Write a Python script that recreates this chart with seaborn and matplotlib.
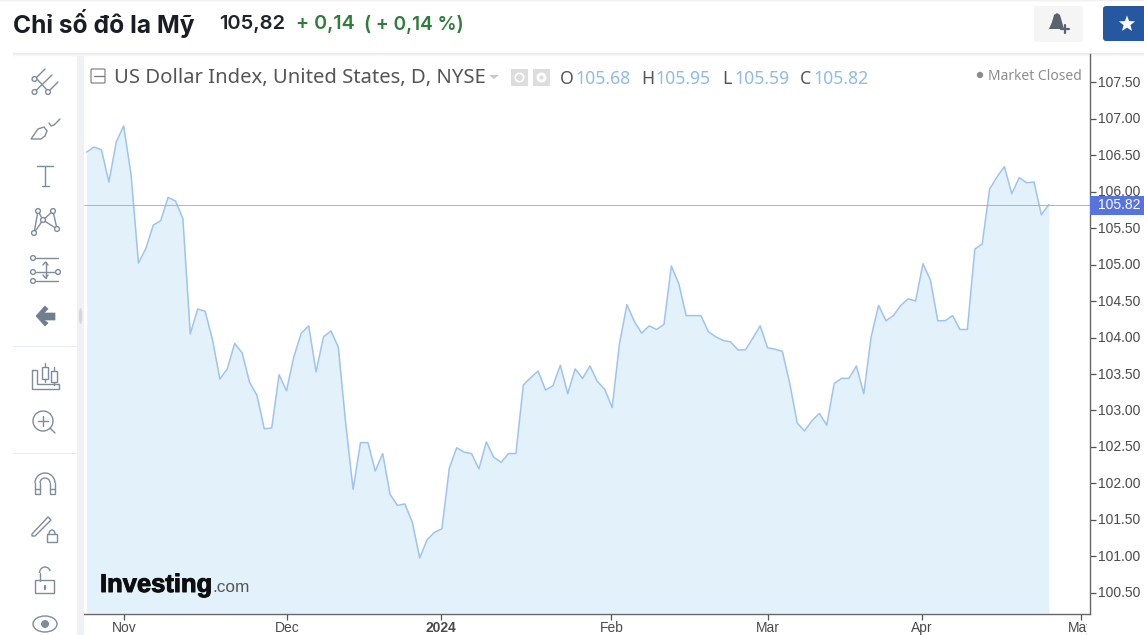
import numpy as np
import pandas as pd
import seaborn as sns
import matplotlib
matplotlib.use("Agg")
import matplotlib.pyplot as plt
import matplotlib.patheffects as pe
from matplotlib.transforms import ScaledTranslation
from matplotlib.patches import Rectangle, Circle, Polygon, Ellipse, Arc, FancyBboxPatch

closes = [106.54,106.61,106.57,106.13,106.68,106.90,106.23,105.02,105.22,105.54,
          105.60,105.92,105.87,105.63,104.05,104.39,104.36,103.97,103.43,103.57,
          103.92,103.79,103.39,103.21,102.75,102.76,103.49,103.27,103.74,104.06,
          104.16,103.53,104.01,104.09,103.87,102.82,101.92,102.56,102.56,102.17,
          102.41,101.85,101.70,101.72,101.47,100.98,101.23,101.33,101.38,102.21,
          102.49,102.43,102.41,102.20,102.57,102.36,102.29,102.41,102.41,103.35,
          103.45,103.54,103.28,103.34,103.62,103.23,103.57,103.44,103.61,103.40,
          103.29,103.04,103.92,104.45,104.22,104.06,104.16,104.11,104.18,104.98,
          104.74,104.30,104.30,104.30,104.08,104.01,103.96,103.94,103.83,103.83,
          103.99,104.16,103.86,103.84,103.81,103.37,102.83,102.72,102.86,102.96,
          102.80,103.37,103.44,103.44,103.61,103.23,104.01,104.44,104.23,104.30,
          104.44,104.53,104.50,105.01,104.79,104.23,104.23,104.30,104.11,104.11,
          105.21,105.28,106.03,106.20,106.34,105.97,106.19,106.12,106.13,105.68,
          105.82]
sessions = list(range(len(closes)))
month_labels = ["Nov", "Dec", "2024", "Feb", "Mar", "Apr", "May"]
month_sessions = [5.05, 27.1, 47.9, 70.9, 92.0, 112.9, 134.4]
price_ticks = [100.5, 101.0, 101.5, 102.0, 102.5, 103.0, 103.5, 104.0, 104.5, 105.0, 105.5, 106.0, 106.5, 107.0, 107.5]
last_close = 105.82

LINE = "#9dc4ef"
FILL = "#e3f1fa"
TXT = "#4a4a4a"
ICON = "#7f8c9c"
VALUE = "#8fbce8"

sns.set_theme(style="white")
plt.rcParams["font.family"] = ["Liberation Sans", "DejaVu Sans"]

W, H = 1144, 635
fig = plt.figure(figsize=(W / 100, H / 100), dpi=100, facecolor="white")
ax = fig.add_axes([84 / W, 1 - 614 / H, (1089.5 - 84) / W, (614 - 54) / H])
df = pd.DataFrame({"session": sessions, "close": closes})
ax.set_xlim(-0.361, 135.5)
ax.set_ylim(100.212, 107.884)
ax.fill_between(df["session"], df["close"], 100.225, color=FILL, lw=0, zorder=1)
sns.lineplot(data=df, x="session", y="close", ax=ax, color=LINE, lw=1.1, estimator=None, zorder=2)
ax.axhline(last_close, color="#86abf7", lw=0.6, zorder=3)
ax.set_xlabel("")
ax.set_ylabel("")
ax.yaxis.tick_right()
ax.set_yticks(price_ticks)
ax.set_yticklabels([f"{p:.2f}" for p in price_ticks], fontsize=10.0, color=TXT)
ax.set_xticks(month_sessions)
ax.set_xticklabels(month_labels, fontsize=10, color=TXT)
ax.get_xticklabels()[2].set_fontweight("bold")
ax.tick_params(axis="both", length=4, width=0.9, color="#555555", pad=2.2, bottom=True, right=True)
ax.tick_params(axis="x", pad=1.0)
for s in ["top", "left"]:
    ax.spines[s].set_visible(False)
for s in ["bottom", "right"]:
    ax.spines[s].set_color("#666666")
    ax.spines[s].set_linewidth(1.0)
for lab in ax.get_yticklabels():
    lab.set_transform(lab.get_transform() + ScaledTranslation(0, 1 / 100, fig.dpi_scale_trans))

ov = fig.add_axes([0, 0, 1, 1], zorder=5)
ov.set_xlim(0, W)
ov.set_ylim(H, 0)
ov.axis("off")
ov.patch.set_alpha(0)

def rect(x, y, w, h, c, **k):
    ov.add_patch(Rectangle((x, y), w, h, fc=c, ec="none", **k))

def seg(pts, c=ICON, lw=1.0):
    xs, ys = zip(*pts)
    ov.plot(xs, ys, color=c, lw=lw, solid_capstyle="round", solid_joinstyle="round")

def node(x, y, r=2.4):
    ov.add_patch(Circle((x, y), r, fc="white", ec=ICON, lw=1.0, zorder=4))

# frame pieces
for i, a in enumerate([0.16, 0.10, 0.05, 0.02]):
    rect(13, 53 + i, W - 13, 1, "#777777", alpha=a)
for i, a in enumerate([0.10, 0.04]):
    rect(0, i, W, 1, "#777777", alpha=a)
rect(77, 56, 7, 579, "#eff1f5")
ov.add_patch(Ellipse((80.5, 316), 3.5, 16, fc="#d4d6da", ec="none"))
rect(13, 346, 64, 1, "#e6ebf0")
rect(13, 453, 64, 1, "#e6ebf0")
rect(1087, 616, 57, 19, "white")

# top bar
ov.text(13, 24, "Chỉ số đô la Mỹ", fontsize=17.7, fontweight="bold", color="#1a1d24",
        family=["Inter", "DejaVu Sans"], va="center")
ov.text(219, 24, "105,82", fontsize=14.5, fontweight="semibold", color="#1f2229", family=["Inter"], va="center")
ov.text(296, 24, "+ 0,14", fontsize=14.2, fontweight="semibold", color="#2e7d3a", family=["Inter"], va="center")
ov.text(364, 24, "( + 0,14 %)", fontsize=13.7, fontweight="semibold", color="#2e7d3a", family=["Inter"], va="center")
ov.add_patch(FancyBboxPatch((1037, 9), 43, 30, boxstyle="round,pad=3", fc="#f5f5f6", ec="none"))
ov.add_patch(Polygon([(1049, 29), (1052, 22), (1054, 15), (1057, 13), (1060, 15), (1062, 22), (1064, 29)],
                     fc="#5a6270", ec="none"))
seg([(1061, 29), (1069, 29)], "#5a6270", 1.6)
seg([(1065, 25), (1065, 33)], "#5a6270", 1.6)
ov.add_patch(FancyBboxPatch((1106, 9), 60, 29, boxstyle="round,pad=3", fc="#26589f", ec="none"))
ang = np.deg2rad(np.arange(10) * 36 - 90)
rad = np.array([8.5, 3.6] * 5)
ov.add_patch(Polygon(np.c_[1127 + rad * np.cos(ang), 24 + rad * np.sin(ang)], fc="white", ec="none"))

# chart legend
ov.add_patch(FancyBboxPatch((92, 70), 12, 12, boxstyle="round,pad=1", fc="white", ec="#777777", lw=0.8))
seg([(94, 76), (104, 76)], "#777777", 0.9)
ov.text(114, 78.5, "US Dollar Index, United States, D, NYSE", fontsize=14.6, color="#555555",
        family=["Noto Sans"], va="center")
ov.add_patch(Polygon([(489, 75), (499, 75), (494, 79)], fc="#c8c8c8", ec="none"))
rect(511, 69, 17, 17, "#dddddd")
rect(533, 69, 17, 17, "#dddddd")
ov.add_patch(Circle((519.5, 77.5), 4.2, fc="none", ec="white", lw=1.2))
ov.add_patch(Circle((541.5, 77.5), 3.6, fc="none", ec="white", lw=2.0))
for lab, xl, val, xv in [("O", 560, "105.68", 575), ("H", 641, "105.95", 655),
                         ("L", 722, "105.59", 734), ("C", 800, "105.82", 813)]:
    ov.text(xl, 78.5, lab, fontsize=12.7, color="#555555", family=["Noto Sans"], va="center")
    ov.text(xv, 78.5, val, fontsize=12.7, color=VALUE, family=["Noto Sans"], va="center")
ov.add_patch(Circle((980, 75), 3.2, fc="#8c8c8c", ec="none"))
ov.text(988, 76.5, "Market Closed", fontsize=10.0, color="#8c8c8c", family=["Noto Sans"], va="center")

# last-price tag
rect(1090, 196, 54, 19, "#5773de")
ov.text(1098, 205, f"{last_close:.2f}", fontsize=10.0, color="white", va="center")

# logo
ov.text(100, 585, "Investing", fontsize=18.4, fontweight="bold", color="#0e0e0e",
        family=["Liberation Sans"], va="center",
        path_effects=[pe.withStroke(linewidth=0.7, foreground="#0e0e0e")])
ov.text(212, 588, ".com", fontsize=12.4, color="#555555", family=["Liberation Sans"], va="center")
rect(175.5, 572.5, 3.5, 2.5, "#f0a830")

# toolbar icons
seg([(37, 77), (45, 69)]); seg([(36, 78), (47, 90)]); seg([(36.5, 90), (52, 75)]); seg([(50, 90), (58, 82)])
for p in [(34.5, 79), (34.5, 92), (48, 92)]:
    node(*p)
ov.add_patch(Polygon([(31, 139), (38, 129), (44, 127), (47, 131), (45, 136), (41, 139)], fc="none", ec=ICON, lw=1.0))
seg([(49, 123), (51, 126), (54, 125), (60, 119)])
seg([(37, 166), (53, 166)]); seg([(45, 166), (45, 186)]); seg([(42, 186), (49, 186)])
for a, b in [((38, 211), (34, 233)), ((38, 211), (43, 220)), ((34, 233), (43, 220)),
             ((43, 220), (53, 211)), ((43, 220), (57, 229)), ((53, 211), (57, 229))]:
    seg([a, b])
for p in [(38, 211), (53, 211), (43, 220), (34, 233), (57, 229)]:
    node(*p)
seg([(36, 258), (58, 258)]); seg([(36, 272), (55, 272)]); seg([(36, 281), (58, 281)])
seg([(45.5, 262), (45.5, 278)]); seg([(43, 265), (45.5, 262), (48, 265)]); seg([(43, 275), (45.5, 278), (48, 275)])
for p in [(33, 258), (33, 272), (58, 272), (33, 281)]:
    node(*p)
ov.add_patch(Polygon([(36, 316), (45, 306), (48, 309), (44, 313), (55, 313), (55, 320), (44, 320), (48, 323), (45, 326)],
                     fc="#6e7f90", ec="#6e7f90", lw=0.5, joinstyle="round"))
seg([(32, 370), (32, 389), (59, 389), (59, 384), (37, 384), (37, 370), (32, 370)])
for x, y, h, t, b in [(42, 367, 12, 363, 382), (51, 371, 11, 367, 385)]:
    seg([(x + 3, t), (x + 3, b)])
    ov.add_patch(Rectangle((x, y), 6, h, fc="white", ec=ICON, lw=1.0, zorder=4))
ov.add_patch(Circle((43, 421), 10, fc="none", ec=ICON, lw=1.0))
seg([(50, 428), (55, 433)]); seg([(38, 421), (48, 421)]); seg([(43, 416), (43, 426)])
ov.add_patch(Arc((45, 483), 20, 20, theta1=180, theta2=360, ec=ICON, lw=1.0))
ov.add_patch(Arc((45, 483), 10, 10, theta1=180, theta2=360, ec=ICON, lw=1.0))
seg([(35, 483), (35, 494), (40, 494), (40, 483)]); seg([(50, 483), (50, 494), (55, 494), (55, 483)])
seg([(35, 489), (40, 489)]); seg([(50, 489), (55, 489)])
ov.add_patch(Polygon([(32, 534), (48, 517), (51, 520), (35, 536), (32, 536)], fc="white", ec=ICON, lw=1.0))
ov.add_patch(Rectangle((47, 534), 10, 8, fc="white", ec=ICON, lw=1.0))
ov.add_patch(Arc((52, 534), 6, 8, theta1=180, theta2=360, ec=ICON, lw=1.0))
ov.add_patch(FancyBboxPatch((36, 581), 18, 12, boxstyle="round,pad=0.5", fc="none", ec=ICON, lw=1.0))
ov.add_patch(Arc((45, 573), 11, 12, theta1=180, theta2=340, ec=ICON, lw=1.0))
seg([(39.5, 573), (39.5, 581)]); seg([(45, 586), (45, 589)], ICON, 1.6)
ov.add_patch(Ellipse((45, 624), 24, 16, fc="none", ec=ICON, lw=1.0))
ov.add_patch(Circle((45, 624), 4, fc=ICON, ec="none"))

fig.savefig("out.png", dpi=100, facecolor="white")
